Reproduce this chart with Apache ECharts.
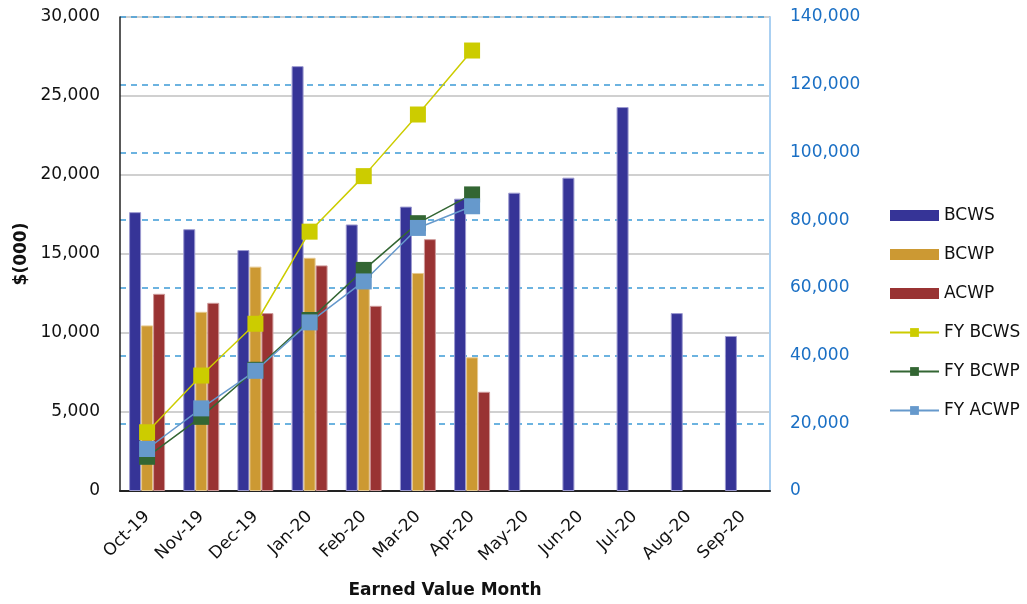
<!DOCTYPE html>
<html>
<head>
<meta charset="utf-8">
<script src="https://cdn.jsdelivr.net/npm/echarts@6/dist/echarts.min.js"></script>
<style>
  html, body { margin: 0; padding: 0; background: #fff; }
  #chart { width: 1027px; height: 604px; }
</style>
</head>
<body>
<div id="chart"></div>
<script>
// 月份
var months = ['Oct-19', 'Nov-19', 'Dec-19', 'Jan-20', 'Feb-20', 'Mar-20',
              'Apr-20', 'May-20', 'Jun-20', 'Jul-20', 'Aug-20', 'Sep-20'];

// 月度数据 $(000)
var bcws = [17650, 16570, 15250, 26890, 16870, 18000, 18500, 18880, 19830, 24300, 11260, 9810];
var bcwp = [10480, 11340, 14200, 14760, 13100, 13800, 8460, null, null, null, null, null];
var acwp = [12480, 11910, 11260, 14280, 11720, 15940, 6280, null, null, null, null, null];

// 累计数据 (右轴)
var fyBcws = [17350, 34100, 49400, 76600, 93000, 111200, 130100];
var fyBcwp = [10100, 21900, 35800, 50500, 65300, 79100, 87600];
var fyAcwp = [12400, 24400, 35500, 49800, 61900, 77700, 84100];

var leftTicks = {min: 0, max: 30000, interval: 5000};
var rightTicks = {min: 0, max: 140000, interval: 20000};

var font = '"DejaVu Sans", Verdana, sans-serif';

var chart = echarts.init(document.getElementById('chart'));

function lineSeries(name, data, color) {
    return {
        name: name,
        type: 'line',
        yAxisIndex: 1,
        data: data,
        symbol: 'rect',
        symbolSize: 16,
        lineStyle: {color: color, width: 1.5},
        itemStyle: {color: color},
        z: 5
    };
}

function barSeries(name, data, color, border) {
    return {
        name: name,
        type: 'bar',
        data: data,
        barWidth: 12,
        barGap: '0%',
        itemStyle: {color: color, borderColor: border, borderWidth: 1}
    };
}

var option = {
    backgroundColor: '#fff',
    animation: false,
    textStyle: {fontFamily: font},
    grid: {left: 120, right: 257, top: 17, bottom: 111},
    legend: {
        orient: 'vertical',
        left: 884,
        top: 202,
        itemWidth: 49,
        itemHeight: 11,
        itemGap: 22,
        textStyle: {fontFamily: font, fontSize: 17, color: '#111'},
        data: [
            {name: 'BCWS', icon: 'rect', itemStyle: {borderWidth: 0}},
            {name: 'BCWP', icon: 'rect', itemStyle: {borderWidth: 0}},
            {name: 'ACWP', icon: 'rect', itemStyle: {borderWidth: 0}},
            'FY BCWS', 'FY BCWP', 'FY ACWP'
        ]
    },
    xAxis: {
        type: 'category',
        data: months,
        name: 'Earned Value Month',
        nameLocation: 'middle',
        nameGap: 91,
        nameTextStyle: {fontFamily: font, fontSize: 17, fontWeight: 'bold', color: '#111'},
        axisLine: {lineStyle: {color: '#222', width: 2}},
        axisTick: {show: false},
        axisLabel: {rotate: 45, margin: 23, fontFamily: font, fontSize: 17, color: '#111', interval: 0}
    },
    yAxis: [{
        type: 'value',
        min: leftTicks.min,
        max: leftTicks.max,
        interval: leftTicks.interval,
        position: 'left',
        name: '$(000)',
        nameLocation: 'middle',
        nameRotate: 90,
        nameGap: 88,
        nameTextStyle: {fontFamily: font, fontSize: 17, fontWeight: 'bold', color: '#111'},
        axisLine: {show: true, lineStyle: {color: '#222', width: 1.5}},
        axisTick: {show: false},
        axisLabel: {
            margin: 20, fontFamily: font, fontSize: 17, color: '#111',
            formatter: function (v) { return v.toLocaleString('en-US'); }
        },
        splitLine: {lineStyle: {color: '#d0d0d0', width: 2}}
    }, {
        type: 'value',
        min: rightTicks.min,
        max: rightTicks.max,
        interval: rightTicks.interval,
        position: 'right',
        axisLine: {show: true, lineStyle: {color: '#aad0f2', width: 2}},
        axisTick: {show: false},
        axisLabel: {
            margin: 20, fontFamily: font, fontSize: 17, color: '#1a6fc4',
            formatter: function (v) { return v.toLocaleString('en-US'); }
        },
        splitLine: {lineStyle: {color: '#3d9ad6', width: 1.5, type: [6, 5]}}
    }],
    series: [
        barSeries('BCWS', bcws, '#363497', '#9c9ad0'),
        barSeries('BCWP', bcwp, '#cc9933', '#e6c98f'),
        barSeries('ACWP', acwp, '#993333', '#cf9a9a'),
        lineSeries('FY BCWS', fyBcws, '#cccc00'),
        lineSeries('FY BCWP', fyBcwp, '#336633'),
        lineSeries('FY ACWP', fyAcwp, '#6699cc')
    ]
};

chart.setOption(option);
window.addEventListener('resize', function () {
    chart.resize();
});
</script>
</body>
</html>
